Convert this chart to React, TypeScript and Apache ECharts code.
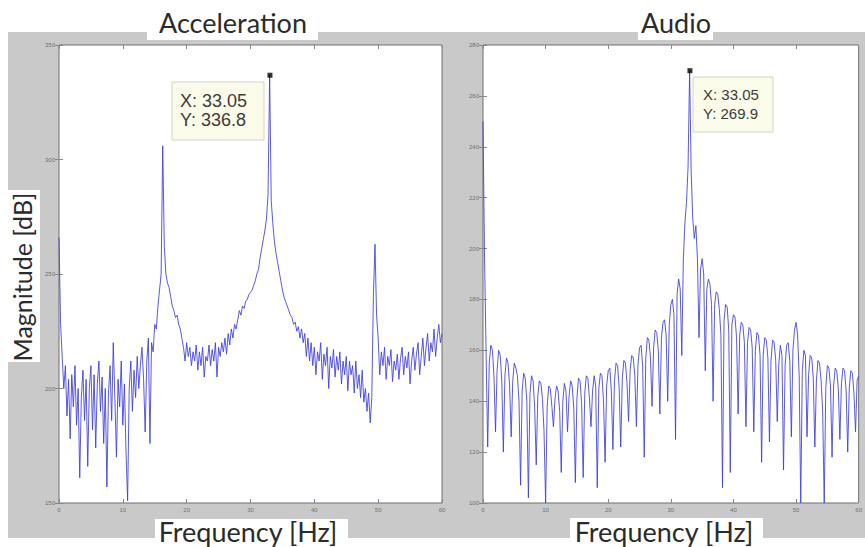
import React, { useEffect, useRef } from "react";
import * as echarts from "echarts";

// ---------- data ----------
const FREQ_STEP = 0.25; // Hz between samples, 0..60 Hz
const freqRange = [0, 60, 10];
const accelYRange = [150, 350, 50];
const audioYRange = [100, 280, 20];
const panelTitles = ["Acceleration", "Audio"];
const xAxisTitle = "Frequency [Hz]";
const yAxisTitle = "Magnitude [dB]";
const accelPeak = [33.05, 336.8];
const audioPeak = [33.05, 269.9];

const accelMagnitude = [
  266, 228, 214, 200, 210, 188, 204, 178,
  206, 192, 210, 184, 200, 161, 196, 208,
  186, 204, 166, 200, 210, 182, 206, 174,
  202, 212, 190, 205, 176, 200, 157, 198,
  210, 186, 220, 196, 170, 204, 192, 212,
  184, 202, 172, 151, 200, 212, 190, 208,
  196, 214, 200, 210, 218, 204, 181, 212,
  222, 176, 220, 216, 228, 226, 236, 243,
  250, 306, 262, 250, 246, 244, 240, 236,
  234, 231, 232, 228, 226, 222, 218, 212,
  220, 214, 218, 210, 216, 212, 219, 208,
  216, 210, 218, 205, 214, 212, 219, 210,
  217, 212, 220, 205, 218, 214, 220, 216,
  222, 215, 224, 219, 226, 222, 228, 226,
  230, 234, 232, 236, 235, 238, 239, 241,
  242, 243, 245, 247, 250, 252, 257, 261,
  265, 269, 274, 285, 336.8, 282, 272, 264,
  259, 255, 251, 247, 243, 240, 238, 236,
  234, 232, 231, 228, 229, 225, 227, 222,
  226, 220, 224, 214, 222, 212, 220, 210,
  218, 206, 216, 212, 220, 204, 215, 210,
  218, 200, 214, 209, 217, 205, 214, 208,
  216, 202, 212, 206, 214, 199, 212, 206,
  210, 198, 212, 200, 206, 196, 208, 194,
  200, 190, 198, 185, 196, 240, 263, 232,
  222, 206, 216, 210, 218, 204, 214, 210,
  217, 203, 212, 208, 215, 204, 213, 218,
  206, 214, 209, 216, 202, 212, 218, 208,
  215, 220, 206, 214, 222, 210, 218, 224,
  212, 220, 216, 226, 214, 222, 228, 220,
  224,
];

const audioMagnitude = [
  250, 196, 158, 122, 155, 162, 160, 150,
  128, 152, 160, 158, 148, 120, 150, 157,
  155, 146, 126, 148, 155, 153, 150, 140,
  107, 144, 151, 149, 140, 102, 143, 150,
  148, 138, 115, 142, 148, 147, 141, 128,
  100, 138, 146, 145, 138, 130, 141, 146,
  144, 136, 112, 140, 147, 144, 128, 142,
  148, 146, 137, 108, 141, 149, 148, 139,
  110, 143, 150, 149, 141, 130, 144, 150,
  146, 106, 145, 151, 150, 140, 116, 146,
  152, 153, 144, 121, 148, 155, 154, 145,
  122, 149, 156, 155, 147, 132, 152, 158,
  157, 150, 130, 154, 161, 162, 154, 118,
  157, 165, 164, 157, 138, 161, 168, 167,
  160, 135, 165, 171, 172, 166, 140, 170,
  178, 180, 174, 125, 182, 188, 184, 158,
  196, 210, 218, 232, 269.9, 230, 212, 204,
  209, 196, 165, 192, 196, 190, 152, 184,
  188, 186, 178, 140, 178, 183, 182, 176,
  166, 106, 172, 178, 177, 168, 112, 170,
  174, 173, 165, 135, 166, 171, 170, 163,
  130, 163, 169, 168, 161, 128, 160, 167,
  166, 158, 116, 158, 165, 164, 157, 124,
  156, 164, 163, 156, 132, 155, 162, 158,
  113, 154, 162, 163, 156, 126, 160, 168,
  171, 166, 150, 100, 152, 160, 158, 126,
  150, 158, 157, 149, 122, 148, 156, 155,
  148, 136, 100, 145, 154, 153, 146, 118,
  146, 153, 152, 145, 125, 147, 153, 152,
  144, 120, 145, 152, 151, 143, 128, 148,
  150,
];

// ---------- styling ----------
const LINE_COLOR = "#3c3ce0";
const FRAME_GRAY = "#c9c9c9";
const TITLE_FONT = "Lato";
const grids = [
  { left: 59, top: 45, width: 383, height: 458 },
  { left: 483, top: 45, width: 383, height: 458 },
];

const tickLabelStyle = {
  fontSize: 6,
  color: "#707070",
  fontFamily: "Liberation Sans",
};

function axesFor(gridIndex: number, yr: number[]) {
  const tick = { show: true, inside: true, length: 4, lineStyle: { color: "#888", width: 1 } };
  const common = { type: "value", gridIndex, splitLine: { show: false }, axisLine: { show: false } };
  const x = [
    {
      ...common,
      position: "bottom",
      min: freqRange[0],
      max: freqRange[1],
      interval: freqRange[2],
      axisTick: tick,
      axisLabel: { ...tickLabelStyle, margin: 4 },
    },
    {
      ...common,
      position: "top",
      min: freqRange[0],
      max: freqRange[1],
      interval: freqRange[2],
      axisTick: tick,
      axisLabel: { show: false },
    },
  ];
  const y = [
    {
      ...common,
      position: "left",
      min: yr[0],
      max: yr[1],
      interval: yr[2],
      axisTick: tick,
      axisLabel: { ...tickLabelStyle, margin: 4 },
    },
    {
      ...common,
      position: "right",
      min: yr[0],
      max: yr[1],
      interval: yr[2],
      axisTick: tick,
      axisLabel: { show: false },
    },
  ];
  return { x, y };
}

function toPairs(values: number[]) {
  return values.map((v, i) => [i * FREQ_STEP, v]);
}

function labelBox(x: number, y: number, w: number, h: number) {
  return { type: "rect", z: 50, shape: { x, y, width: w, height: h }, style: { fill: "#ffffff" } };
}

function bigText(text: string, x: number, y: number, fontSize: number, rotation = 0) {
  return {
    type: "text",
    z: 60,
    x,
    y,
    rotation,
    style: {
      text,
      x: 0,
      y: 0,
      align: "center",
      verticalAlign: "middle",
      fontFamily: TITLE_FONT,
      fontSize,
      fill: "#2b2b2b",
    },
  };
}

function dataTip(peak: number[], box: number[], textPos: number[], fontSize: number, lineHeight: number) {
  return [
    {
      type: "rect",
      z: 70,
      shape: { x: box[0], y: box[1], width: box[2], height: box[3] },
      style: { fill: "#fbfbe9", stroke: "#d4d4c4", lineWidth: 1 },
    },
    {
      type: "text",
      z: 71,
      x: textPos[0],
      y: textPos[1],
      style: {
        text: `X: ${peak[0].toFixed(2)}\nY: ${peak[1].toFixed(1)}`,
        fontFamily: "Liberation Sans",
        fontSize,
        lineHeight,
        fill: "#3c3c3c",
        verticalAlign: "top",
        align: "left",
      },
    },
  ];
}

export default function App() {
  const ref = useRef<HTMLDivElement>(null);
  useEffect(() => {
    if (!ref.current) return;
    const chart = echarts.init(ref.current, null, { renderer: "svg" });
    const a0 = axesFor(0, accelYRange);
    const a1 = axesFor(1, audioYRange);
    chart.setOption({
      animation: false,
      backgroundColor: "#ffffff",
      grid: grids.map((g) => ({
        ...g,
        show: true,
        backgroundColor: "#ffffff",
        borderColor: "#6e6e6e",
        borderWidth: 1,
        containLabel: false,
      })),
      xAxis: [...a0.x, ...a1.x],
      yAxis: [...a0.y, ...a1.y],
      series: [
        {
          type: "line",
          name: panelTitles[0],
          xAxisIndex: 0,
          yAxisIndex: 0,
          data: toPairs(accelMagnitude),
          showSymbol: false,
          lineStyle: { color: LINE_COLOR, width: 1, opacity: 0.85 },
          silent: true,
        },
        {
          type: "line",
          name: panelTitles[1],
          xAxisIndex: 2,
          yAxisIndex: 2,
          data: toPairs(audioMagnitude),
          showSymbol: false,
          lineStyle: { color: LINE_COLOR, width: 1, opacity: 0.85 },
          silent: true,
        },
        {
          type: "scatter",
          xAxisIndex: 0,
          yAxisIndex: 0,
          data: [accelPeak],
          symbol: "rect",
          symbolSize: 5,
          itemStyle: { color: "#000" },
          z: 5,
        },
        {
          type: "scatter",
          xAxisIndex: 2,
          yAxisIndex: 2,
          data: [audioPeak],
          symbol: "rect",
          symbolSize: 5,
          itemStyle: { color: "#000" },
          z: 5,
        },
      ],
      graphic: [
        { type: "rect", z: -10, shape: { x: 8, y: 32, width: 857, height: 506 }, style: { fill: FRAME_GRAY } },
        labelBox(147, 0, 171, 40),
        bigText(panelTitles[0], 233, 22, 27),
        labelBox(638, 0, 75, 40),
        bigText(panelTitles[1], 676, 22, 27),
        labelBox(155, 519, 193, 28),
        bigText(xAxisTitle, 248, 531, 27),
        labelBox(570, 518, 193, 29),
        bigText(xAxisTitle, 664, 531, 27),
        labelBox(0, 190, 40, 172),
        bigText(yAxisTitle, 22, 277, 25, Math.PI / 2),
        ...dataTip(accelPeak, [172, 82, 92, 58], [180, 91], 18, 19.5),
        ...dataTip(audioPeak, [693, 77, 80, 55], [703, 85], 15, 19.3),
      ],
    });
    return () => chart.dispose();
  }, []);
  return (
    <div
      ref={ref}
      style={{ position: "absolute", left: 0, top: 0, width: 865, height: 547 }}
    />
  );
}
